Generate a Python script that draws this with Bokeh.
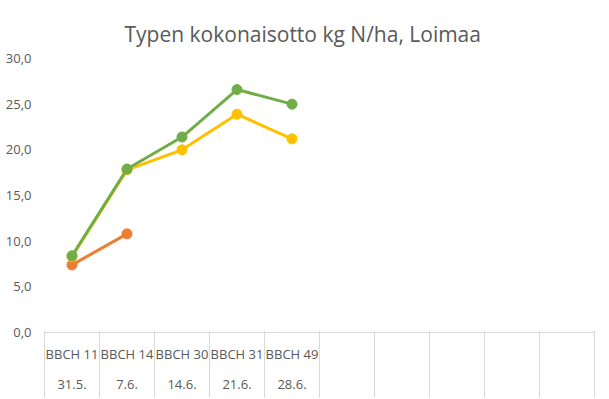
from bokeh.plotting import figure
from bokeh.models import (Range1d, LinearAxis, FixedTicker, Title)
from bokeh.embed import file_html
from bokeh.resources import INLINE

# ---- data ----
bbch_labels = ["BBCH 11", "BBCH 14", "BBCH 30", "BBCH 31", "BBCH 49", "", "", "", "", ""]
date_labels = ["31.5.", "7.6.", "14.6.", "21.6.", "28.6.", "", "", "", "", ""]
orange_vals = [7.4, 10.8]
yellow_vals = [8.3, 17.8, 20.0, 23.9, 21.2]
green_vals = [8.4, 17.9, 21.4, 26.6, 25.0]
y_ticks = [0, 5, 10, 15, 20, 25, 30]
y_tick_labels = ["0,0", "5,0", "10,0", "15,0", "20,0", "25,0", "30,0"]

FONT = "Open Sans"
TXT = "#595959"
GRID = "#d9d9d9"

n = len(bbch_labels)
centers = [i + 0.5 for i in range(n)]
edges = [float(i) for i in range(n + 1)]

p = figure(width=609, height=399, output_backend="svg", toolbar_location=None,
           x_range=Range1d(0, n), y_range=Range1d(0, 30),
           x_axis_type=None, y_axis_type=None,
           min_border_left=44, min_border_right=15, min_border_top=58, min_border_bottom=67)
p.outline_line_color = None

title = Title(text="Typen kokonaisotto kg N/ha, Loimaa", align="left", offset=80,
              text_font=FONT, text_font_size="21px", text_font_style="normal",
              text_color=TXT, standoff=22)
p.add_layout(title, "above")

# y axis
yax = LinearAxis(ticker=FixedTicker(ticks=y_ticks),
                 major_label_overrides={t: l for t, l in zip(y_ticks, y_tick_labels)},
                 axis_line_color=None, major_tick_line_color=None, minor_tick_line_color=None,
                 major_tick_out=0, major_tick_in=0, major_label_standoff=13,
                 major_label_text_font=FONT, major_label_text_font_size="13px",
                 major_label_text_color=TXT)
p.add_layout(yax, "left")

# x axis row 1 (BBCH)
xax1 = LinearAxis(ticker=FixedTicker(ticks=centers, minor_ticks=[]),
                  major_label_overrides={c: l for c, l in zip(centers, bbch_labels)},
                  axis_line_color=GRID, axis_line_width=1,
                  major_tick_line_color=None, major_tick_out=0, major_tick_in=0,
                  minor_tick_line_color=None, minor_tick_out=0, minor_tick_in=0,
                  major_label_standoff=12,
                  major_label_text_font=FONT, major_label_text_font_size="13px",
                  major_label_text_color=TXT)
p.add_layout(xax1, "below")

# x axis row 2 (dates)
xax2 = LinearAxis(ticker=FixedTicker(ticks=centers, minor_ticks=[]),
                  major_label_overrides={c: l for c, l in zip(centers, date_labels)},
                  axis_line_color=None, major_tick_line_color=None, minor_tick_line_color=None,
                  major_tick_out=0, major_tick_in=0, minor_tick_out=0, minor_tick_in=0,
                  major_label_standoff=14,
                  major_label_text_font=FONT, major_label_text_font_size="13px",
                  major_label_text_color=TXT)
p.add_layout(xax2, "below")

# category separators (ticks drawn upward through both label rows)
xax3 = LinearAxis(ticker=FixedTicker(ticks=[], minor_ticks=edges),
                  axis_line_color=None, major_tick_line_color=None,
                  major_tick_out=0, major_tick_in=0, major_label_standoff=0,
                  minor_tick_line_color=GRID, minor_tick_out=6, minor_tick_in=61,
                  major_label_text_font_size="0px")
p.add_layout(xax3, "below")

p.ygrid.grid_line_color = GRID
p.ygrid.ticker = FixedTicker(ticks=y_ticks)
p.xgrid.grid_line_color = None

series = [(orange_vals, "#ED7D31"), (yellow_vals, "#FFC000"), (green_vals, "#70AD47")]
for vals, col in series:
    xs = centers[:len(vals)]
    p.line(xs, vals, line_color=col, line_width=3)
    p.scatter(xs, vals, size=10, fill_color=col, line_color=col, marker="circle")

open("out.html", "w").write(file_html(p, INLINE))
